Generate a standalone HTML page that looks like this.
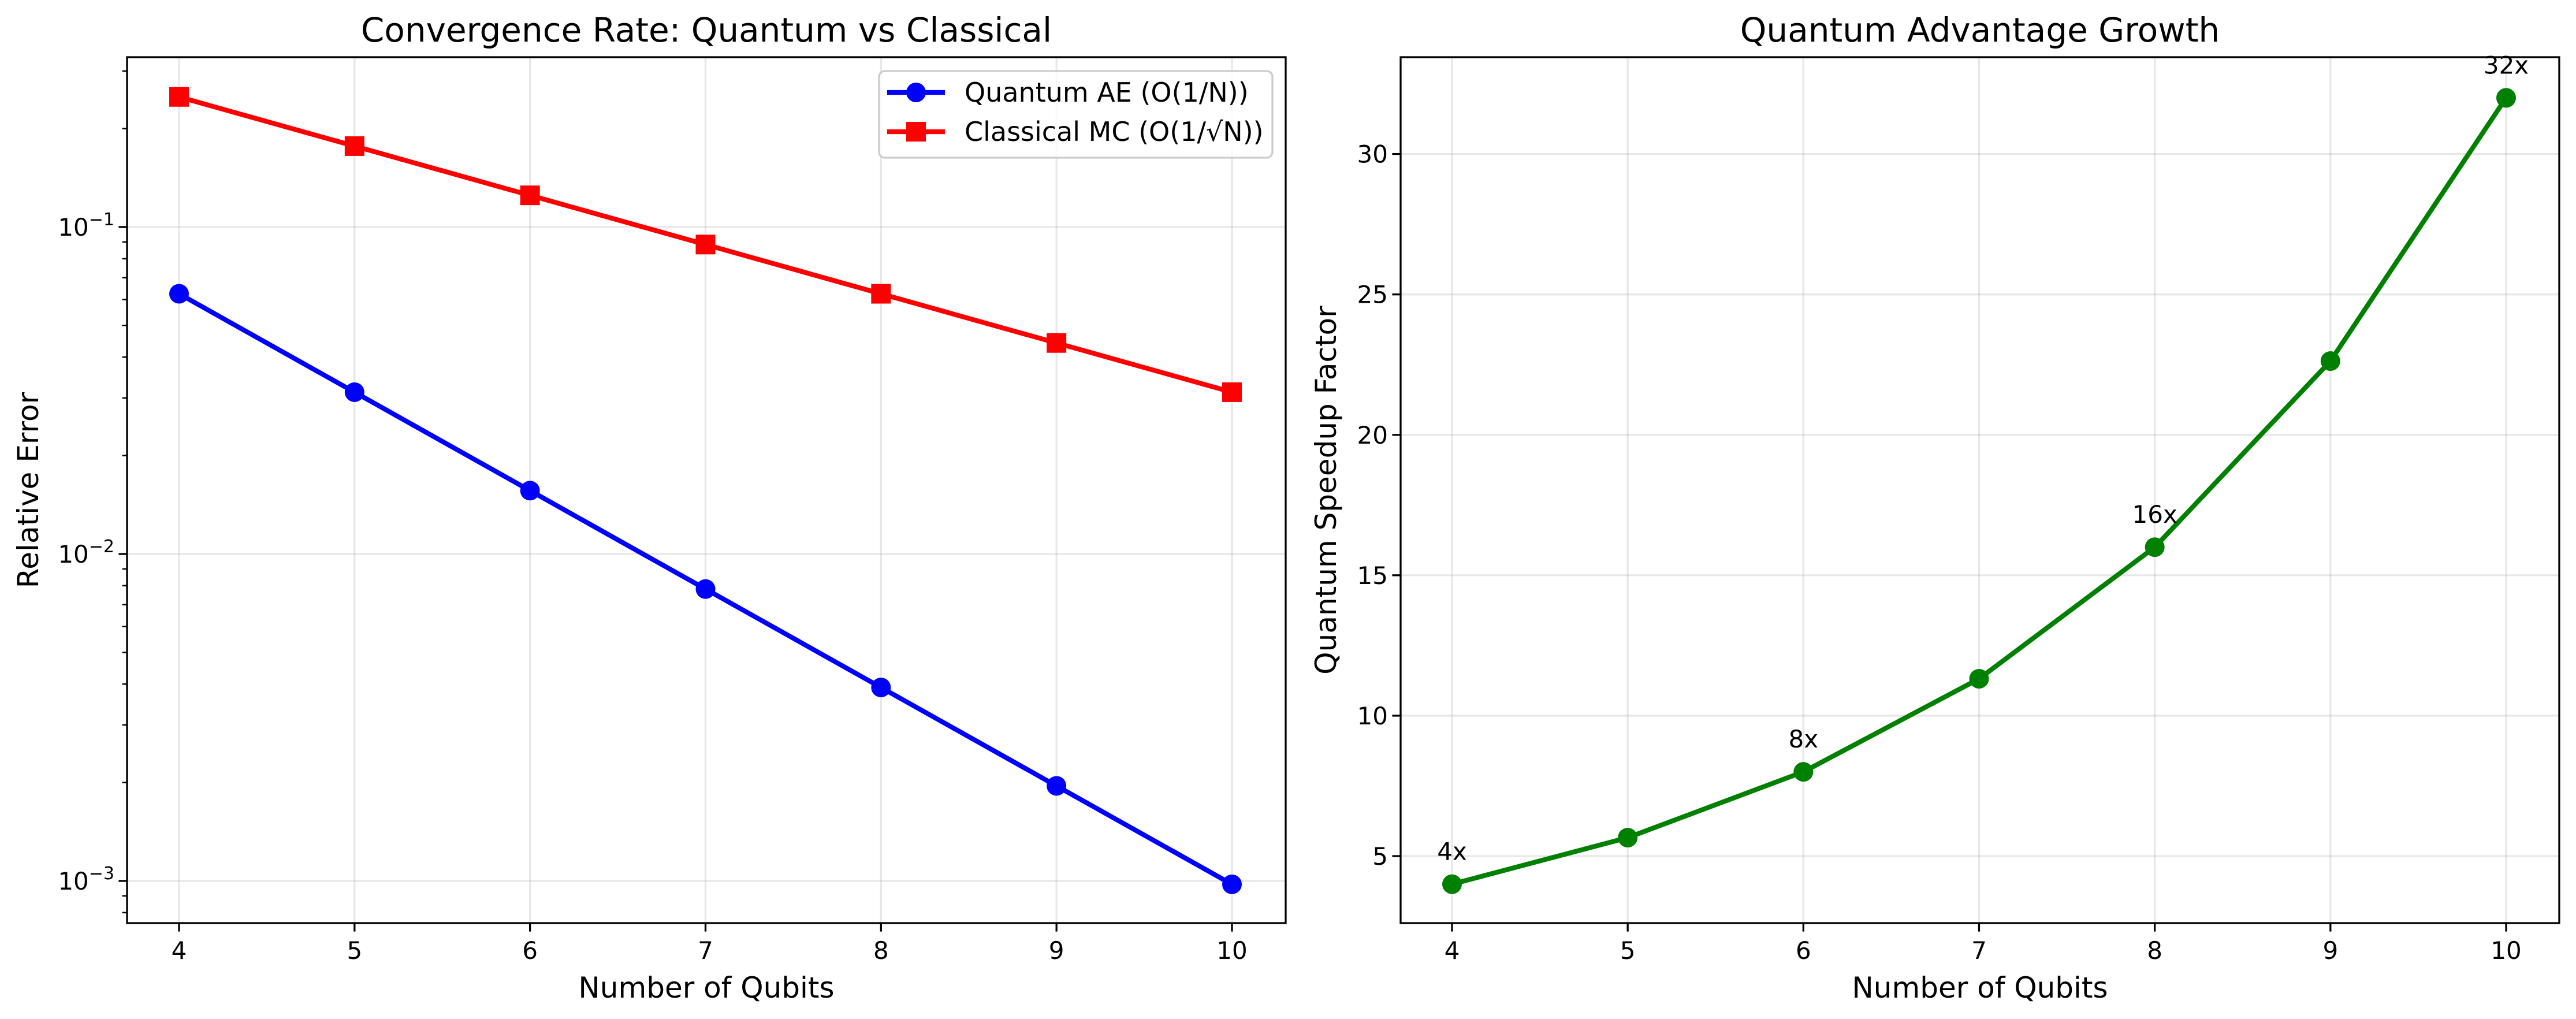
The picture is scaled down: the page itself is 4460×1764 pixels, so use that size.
<!DOCTYPE html>
<html><head><meta charset="utf-8"><style>
html,body{margin:0;padding:0;background:#fff;}
svg{display:block;font-family:"DejaVu Sans","Liberation Sans",sans-serif;}
</style></head><body>
<svg id="chart" width="4460" height="1764" viewBox="0 0 4460 1764" xmlns="http://www.w3.org/2000/svg">
<rect width="4460" height="1764" fill="#fff"/>
<g id="left"></g>
<g id="right"></g>
</svg>
<script>
const qubits = [4,5,6,7,8,9,10];
const quantumErr = [0.0625,0.03125,0.015625,0.0078125,0.00390625,0.001953125,0.0009765625];
const classicalErr = [0.25,0.1768,0.125,0.0884,0.0625,0.0442,0.03125];
const speedup = [4,5.657,8,11.314,16,22.627,32];
const speedLabels = ["4x","","8x","","16x","","32x"];
const xTicks = [4,5,6,7,8,9,10];
const logTicks = [-3,-2,-1];
const linTicks = [5,10,15,20,25,30];

const NS="http://www.w3.org/2000/svg";
function mk(parent,tag,attrs,text){const e=document.createElementNS(NS,tag);for(const k in attrs)e.setAttribute(k,attrs[k]);if(text!==undefined)e.textContent=text;parent.appendChild(e);return e;}

// Left axes
const L={x0:220,x1:2226,y0:99,y1:1598};
const lx=v=>310+(v-4)*(2133-310)/6;
const ly=v=>393+(-1-Math.log10(v))*566;
// Right axes
const R={x0:2425,x1:4431,y0:99,y1:1598};
const rx=v=>2514+(v-4)*(4339-2514)/6;
const ry=v=>1482-(v-5)*(1482-266.6)/25;

function frame(g,A){
  const b=mk(g,'rect',{x:A.x0,y:A.y0,width:A.x1-A.x0,height:A.y1-A.y0,fill:'none',stroke:'#000','stroke-width':3.3});
  
  
}
function xaxis(g,A,sx){
  xTicks.forEach(t=>{
    const x=sx(t);
    const gl=mk(g,'line',{x1:x,x2:x,y1:A.y0,y2:A.y1,stroke:'#b0b0b0','stroke-opacity':0.3,'stroke-width':3.3});
    
    
    mk(g,'line',{x1:x,x2:x,y1:A.y1,y2:A.y1+14.6,stroke:'#000','stroke-width':3.3});
    const tl=mk(g,'text',{x:x,y:1660,'font-size':42,'text-anchor':'middle'},String(t));
    
    
  });
}

// ---------- LEFT ----------
const gl=document.getElementById('left');
logTicks.forEach(p=>{
  const y=ly(Math.pow(10,p));
  const g1=mk(gl,'line',{x1:L.x0,x2:L.x1,y1:y,y2:y,stroke:'#b0b0b0','stroke-opacity':0.3,'stroke-width':3.3});
  
  
  mk(gl,'line',{x1:L.x0-14.6,x2:L.x0,y1:y,y2:y,stroke:'#000','stroke-width':3.3});
  const t=mk(gl,'text',{x:L.x0-22,y:y+15,'font-size':42,'text-anchor':'end'});
  
  
  mk(t,'tspan',{},'10');
  mk(t,'tspan',{dy:-18,'font-size':30},'\u2212'+(-p));
});
for(let p=-4;p<=0;p++){for(let m=2;m<=9;m++){const v=m*Math.pow(10,p);const y=ly(v);if(y>L.y0&&y<L.y1)mk(gl,'line',{x1:L.x0-8.3,x2:L.x0,y1:y,y2:y,stroke:'#000','stroke-width':2.5});}}
xaxis(gl,L,lx);
const qpts=qubits.map((q,i)=>lx(q)+','+ly(quantumErr[i])).join(' ');
const ql=mk(gl,'polyline',{points:qpts,fill:'none',stroke:'#0000ff','stroke-width':8.3,'stroke-linejoin':'round'});


qubits.forEach((q,i)=>{const c=mk(gl,'circle',{cx:lx(q),cy:ly(quantumErr[i]),r:17,fill:'#0000ff'});

});
const cpts=qubits.map((q,i)=>lx(q)+','+ly(classicalErr[i])).join(' ');
const cl=mk(gl,'polyline',{points:cpts,fill:'none',stroke:'#ff0000','stroke-width':8.3,'stroke-linejoin':'round'});


qubits.forEach((q,i)=>{const s=mk(gl,'rect',{x:lx(q)-17,y:ly(classicalErr[i])-17,width:34,height:34,fill:'#ff0000'});

});
frame(gl,L);
const t1=mk(gl,'text',{x:(L.x0+L.x1)/2,y:72,'font-size':58,'text-anchor':'middle'},'Convergence Rate: Quantum vs Classical');


const xl1=mk(gl,'text',{x:(L.x0+L.x1)/2,y:1727,'font-size':50,'text-anchor':'middle'},'Number of Qubits');


const yl1=mk(gl,'text',{x:0,y:0,'font-size':50,'text-anchor':'middle',transform:'translate(66,'+((L.y0+L.y1)/2)+') rotate(-90)'},'Relative Error');


// legend
const lg=mk(gl,'g',{});


mk(lg,'rect',{x:1522,y:123,width:681,height:150,rx:10,fill:'#fff','fill-opacity':0.8,stroke:'#cccccc','stroke-width':3.3});
mk(lg,'line',{x1:1536,x2:1636,y1:160,y2:160,stroke:'#0000ff','stroke-width':8.3});
mk(lg,'circle',{cx:1586,cy:160,r:17,fill:'#0000ff'});
const le1=mk(lg,'text',{x:1670,y:176,'font-size':46},'Quantum AE (O(1/N))');


mk(lg,'line',{x1:1536,x2:1636,y1:228,y2:228,stroke:'#ff0000','stroke-width':8.3});
mk(lg,'rect',{x:1569,y:211,width:34,height:34,fill:'#ff0000'});
const le2=mk(lg,'text',{x:1670,y:244,'font-size':46},'Classical MC (O(1/\u221AN))');



// ---------- RIGHT ----------
const gr=document.getElementById('right');
linTicks.forEach(v=>{
  const y=ry(v);
  const g1=mk(gr,'line',{x1:R.x0,x2:R.x1,y1:y,y2:y,stroke:'#b0b0b0','stroke-opacity':0.3,'stroke-width':3.3});
  
  
  mk(gr,'line',{x1:R.x0-14.6,x2:R.x0,y1:y,y2:y,stroke:'#000','stroke-width':3.3});
  const t=mk(gr,'text',{x:R.x0-22,y:y+15,'font-size':42,'text-anchor':'end'},String(v));
  
  
});
xaxis(gr,R,rx);
const spts=qubits.map((q,i)=>rx(q)+','+ry(speedup[i])).join(' ');
const sl=mk(gr,'polyline',{points:spts,fill:'none',stroke:'#008000','stroke-width':8.3,'stroke-linejoin':'round'});


qubits.forEach((q,i)=>{const c=mk(gr,'circle',{cx:rx(q),cy:ry(speedup[i]),r:17,fill:'#008000'});


if(speedLabels[i]){const a=mk(gr,'text',{x:rx(q),y:ry(speedup[i])-42,'font-size':42,'text-anchor':'middle'},speedLabels[i]);

}});
frame(gr,R);
const t2=mk(gr,'text',{x:(R.x0+R.x1)/2,y:72,'font-size':58,'text-anchor':'middle'},'Quantum Advantage Growth');


const xl2=mk(gr,'text',{x:(R.x0+R.x1)/2,y:1727,'font-size':50,'text-anchor':'middle'},'Number of Qubits');


const yl2=mk(gr,'text',{x:0,y:0,'font-size':50,'text-anchor':'middle',transform:'translate(2313,'+((R.y0+R.y1)/2)+') rotate(-90)'},'Quantum Speedup Factor');


</script>
</body></html>
